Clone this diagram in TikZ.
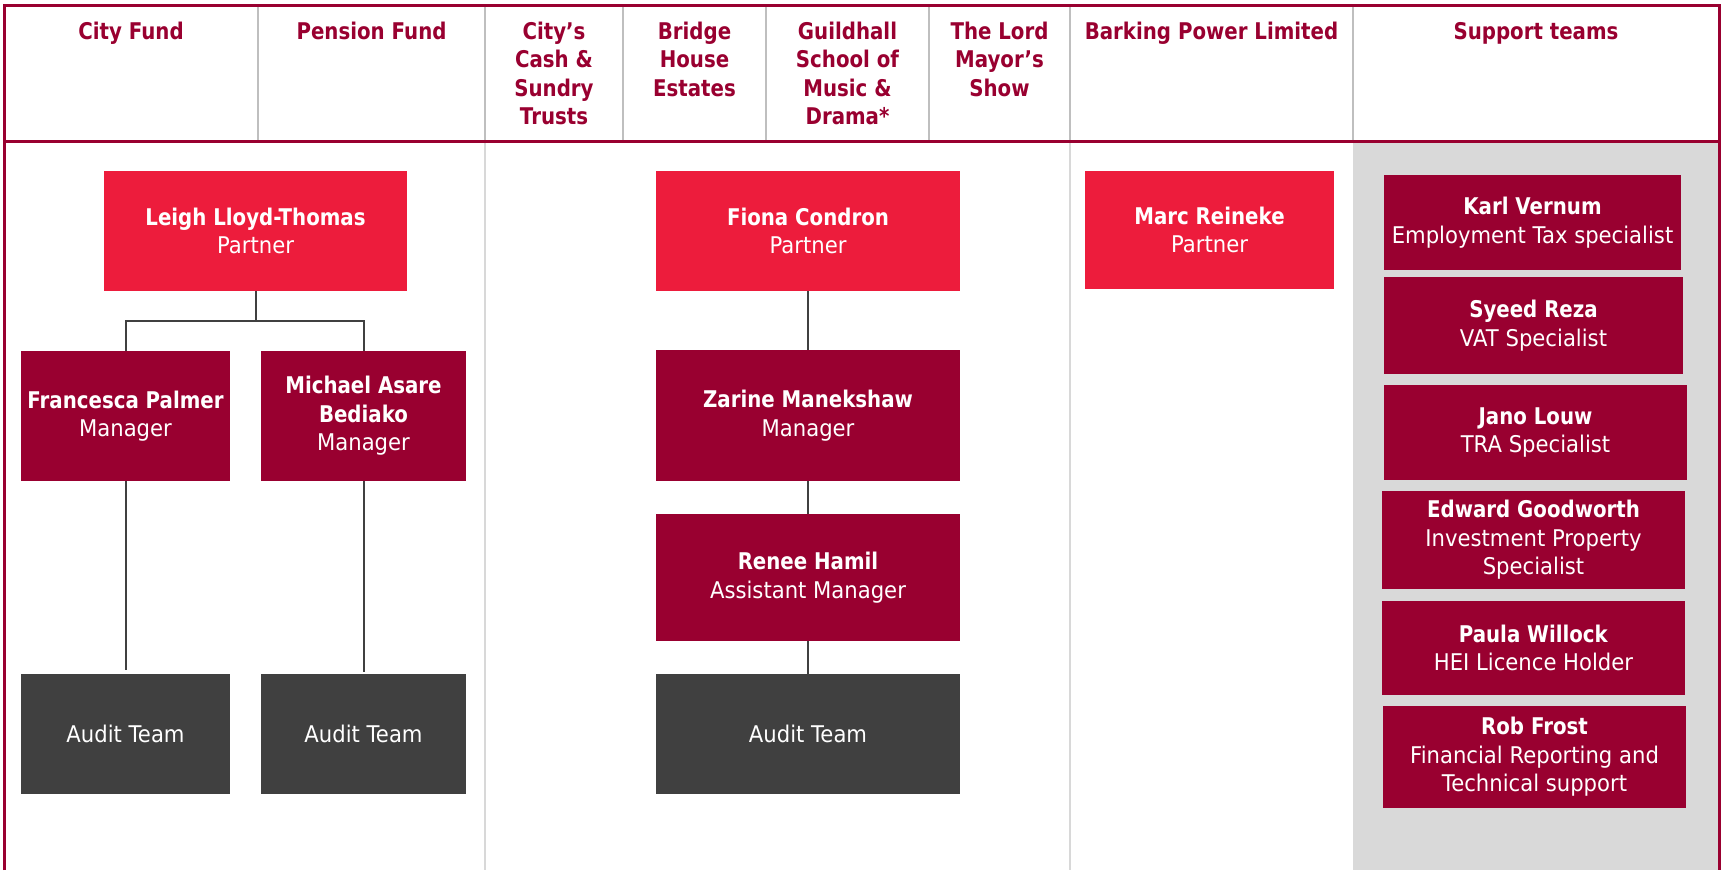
\documentclass[tikz,border=0pt]{standalone}
\usepackage{fontspec}
\setmainfont{DejaVu Sans}[FakeStretch=0.92,BoldFeatures={FakeStretch=0.86}]
\usetikzlibrary{calc}
\definecolor{cityred}{HTML}{ED1C3C}
\definecolor{citymaroon}{HTML}{990030}
\definecolor{teamgrey}{HTML}{404040}
\definecolor{rulegrey}{HTML}{BFBFBF}
\definecolor{panelgrey}{HTML}{D9D9D9}
\begin{document}
\begin{tikzpicture}[x=1pt,y=-1pt,inner sep=0pt,outer sep=0pt,
font=\fontsize{23}{28.5}\selectfont,
colhead/.style={anchor=north,align=center,text=citymaroon,font=\fontsize{23}{28.5}\selectfont\bfseries},
partner/.style={rectangle,fill=cityred,text=white,align=center,minimum width=304pt,minimum height=120pt},
manager/.style={rectangle,fill=citymaroon,text=white,align=center,minimum width=304pt,minimum height=130pt},
auditbox/.style={rectangle,fill=teamgrey,text=white,align=center,minimum width=304pt,minimum height=120pt},
support/.style={rectangle,fill=citymaroon,text=white,align=center,minimum width=303pt,minimum height=96pt},
link/.style={draw=teamgrey,line width=2pt}]
\useasboundingbox (0,0) rectangle (1721,870);

% panel and rules
\fill[panelgrey] (1353,142) rectangle (1719,870);
\draw[rulegrey!60,line width=1.5pt] (485,142) -- (485,870) (1070,142) -- (1070,870);
\foreach \xx in {258,485,623,766,929,1070,1353}
  \draw[rulegrey,line width=2.5pt] (\xx,6) -- (\xx,141);
\draw[citymaroon,line width=3pt] (4.5,870) -- (4.5,5.5) -- (1719,5.5) -- (1719,870);
\draw[citymaroon,line width=3pt] (4.5,141.6) -- (1719,141.6);

% column heads
\draw (131,22) node[colhead] (hcity) {City Fund};
\draw (371.5,22) node[colhead] (hpension) {Pension Fund};
\draw (554,22) node[colhead] (hcash) {City’s\\Cash \&\\Sundry\\Trusts};
\draw (694.5,22) node[colhead] (hbridge) {Bridge\\House\\Estates};
\draw (847.5,22) node[colhead] (hguild) {Guildhall\\School of\\Music \&\\Drama*};
\draw (999.5,22) node[colhead] (hmayor) {The Lord\\Mayor’s\\Show};
\draw (1211.5,22) node[colhead] (hbarking) {Barking Power Limited};
\draw (1536,22) node[colhead] (hsupport) {Support teams};

% city fund / pension fund
\draw (255.5,231) node[partner,minimum width=303pt] (leigh) {\textbf{Leigh Lloyd-Thomas}\\Partner};
\draw (125.5,416) node[manager,minimum width=209pt] (francesca) {\textbf{Francesca Palmer}\\Manager};
\draw (363.5,416) node[manager,minimum width=205pt] (michael) {\textbf{Michael Asare}\\\textbf{Bediako}\\Manager};
\draw (125.5,734) node[auditbox,minimum width=209pt] (auditcity) {Audit Team};
\draw (363.5,734) node[auditbox,minimum width=205pt] (auditpension) {Audit Team};

% trusts and estates
\draw (808,231) node[partner] (fiona) {\textbf{Fiona Condron}\\Partner};
\draw (808,415.5) node[manager,minimum height=131pt] (zarine) {\textbf{Zarine Manekshaw}\\Manager};
\draw (808,577.5) node[manager,minimum height=127pt] (renee) {\textbf{Renee Hamil}\\Assistant Manager};
\draw (808,734) node[auditbox] (audittrusts) {Audit Team};

% barking power
\draw (1209.5,230) node[partner,minimum width=249pt,minimum height=118pt] (marc) {\textbf{Marc Reineke}\\Partner};

% support teams
\draw (1532.5,222.5) node[support,minimum width=297pt,minimum height=95pt] (karl) {\textbf{Karl Vernum}\\Employment Tax specialist};
\draw (1533.5,325.5) node[support,minimum width=299pt,minimum height=97pt] (syeed) {\textbf{Syeed Reza}\\VAT Specialist};
\draw (1535.5,432.5) node[support,minimum height=95pt] (jano) {\textbf{Jano Louw}\\TRA Specialist};
\draw (1533.5,540) node[support,minimum height=98pt] (edward) {\textbf{Edward Goodworth}\\Investment Property\\Specialist};
\draw (1533.5,648) node[support,minimum height=94pt] (paula) {\textbf{Paula Willock}\\HEI Licence Holder};
\draw (1534.5,757) node[support,minimum height=102pt] (rob) {\textbf{Rob Frost}\\Financial Reporting and\\Technical support};

% connectors
\coordinate (citysplit) at ($(leigh.south)!0.5!(leigh.south |- francesca.north)$);
\draw[link] (leigh.south) -- (citysplit);
\draw[link] (francesca.north) |- (citysplit) -| (michael.north);
\draw[link,shorten >=4pt] (francesca) -- (auditcity);
\draw[link,shorten >=2pt] (michael) -- (auditpension);
\draw[link] (fiona) -- (zarine);
\draw[link] (zarine) -- (renee);
\draw[link] (renee) -- (audittrusts);
\end{tikzpicture}
\end{document}
